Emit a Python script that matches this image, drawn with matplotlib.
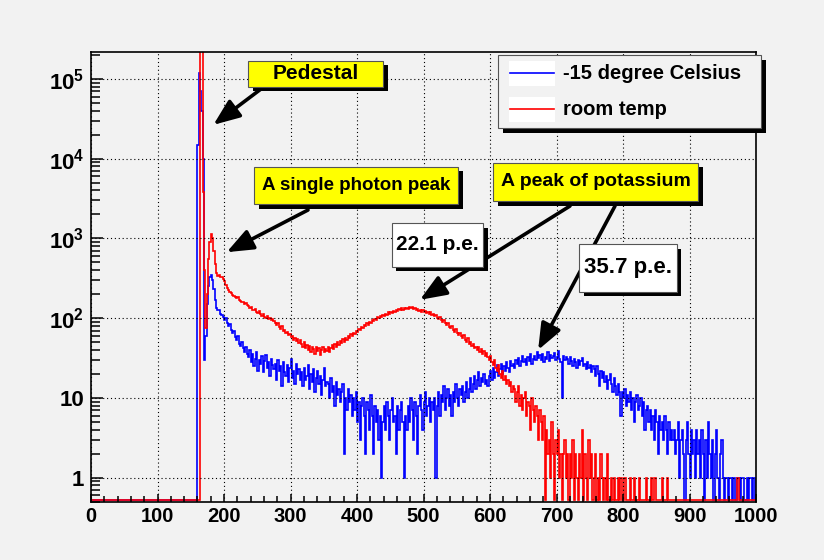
import numpy as np
import matplotlib
matplotlib.use('Agg')
import matplotlib.pyplot as plt
from matplotlib.patches import Rectangle
from matplotlib.lines import Line2D
from matplotlib.ticker import MultipleLocator, LogLocator, FuncFormatter

plt.rcParams['font.family'] = ['Liberation Sans', 'DejaVu Sans']
plt.rcParams['font.weight'] = 'bold'
plt.rcParams['mathtext.fontset'] = 'custom'
plt.rcParams['mathtext.rm'] = 'Liberation Sans:bold'
plt.rcParams['mathtext.it'] = 'Liberation Sans:bold'
plt.rcParams['mathtext.bf'] = 'Liberation Sans:bold'

# ADC channel bins (2 channels per bin)
bin_edges = np.arange(0, 1002, 2)

# -15 degree Celsius
cold_counts = [0] * 80 + [
    15000, 120000, 70000, 40000, 10000, 30, 60, 150, 250, 330, 350, 300, 230, 170, 135, 125, 128, 112,
    110, 105, 96, 100, 88, 80, 84, 72, 66, 70, 58, 54, 60, 48, 45, 50, 42, 38, 44, 36,
    33, 40, 28, 36, 25, 31, 38, 22, 30, 27, 34, 21, 29, 35, 24, 28, 19, 31, 26, 23,
    27, 17, 30, 22, 25, 14, 28, 21, 19, 26, 16, 24, 31, 18, 22, 15, 27, 20, 23, 17,
    21, 14, 24, 17, 19, 26, 13, 20, 16, 23, 12, 18, 22, 15, 19, 11, 17, 24, 14, 16,
    15, 10, 18, 12, 14, 8, 16, 11, 13, 9, 12, 15, 2, 10, 7, 13, 9, 11, 6, 10,
    7, 12, 5, 9, 3, 8, 10, 6, 2, 9, 7, 4, 11, 6, 2, 8, 5, 7, 3, 6,
    1, 5, 8, 4, 9, 6, 3, 7, 10, 5, 6, 2, 8, 4, 7, 9, 5, 1, 6, 4,
    8, 5, 10, 7, 3, 9, 6, 2, 8, 11, 7, 4, 9, 12, 6, 8, 10, 5, 9, 7,
    10, 1, 8, 12, 6, 11, 9, 14, 7, 10, 13, 8, 11, 6, 12, 9, 15, 10, 8, 13,
    11, 14, 9, 12, 16, 10, 13, 18, 12, 15, 19, 13, 17, 21, 14, 18, 16, 20, 15, 17,
    14, 19, 22, 17, 24, 18, 21, 26, 19, 23, 27, 20, 25, 22, 28, 24, 21, 29, 25, 27,
    24, 30, 27, 32, 25, 29, 34, 28, 31, 26, 33, 29, 36, 27, 31, 34, 30, 38, 32, 35,
    30, 36, 28, 33, 31, 38, 29, 35, 32, 34, 37, 30, 33, 39, 31, 28, 10, 34, 30, 33,
    31, 27, 33, 29, 25, 31, 28, 24, 30, 26, 29, 32, 25, 27, 23, 28, 24, 26, 21, 25,
    23, 19, 25, 20, 14, 22, 18, 21, 16, 19, 13, 17, 20, 15, 12, 18, 14, 11, 15, 12,
    6, 12, 10, 13, 8, 11, 9, 12, 7, 10, 5, 9, 11, 7, 8, 10, 6, 9, 4, 7,
    8, 5, 7, 4, 6, 3, 7, 5, 2, 6, 4, 5, 3, 6, 4, 2, 5, 3, 4, 3,
    4, 2, 3, 5, 1, 3, 4, 2, 0, 3, 5, 2, 1, 4, 2, 3, 1, 4, 2, 3,
    1, 4, 2, 0, 3, 1, 5, 2, 1, 3, 0, 2, 4, 1, 0, 2, 3, 1, 0, 1,
    1, 0, 1, 1, 0, 1, 0, 0, 1, 1, 0, 1, 1, 0, 0, 1, 0, 1, 1, 0,
    1, 0]

# room temp
room_counts = [0] * 80 + [
    0, 0, 300000, 300000, 3800, 400, 75, 200, 550, 900, 1150, 1000, 700, 480, 370, 340, 345, 330,
    330, 310, 290, 260, 240, 225, 215, 205, 198, 190, 185, 178, 182, 170, 165, 160, 158, 150, 154, 145,
    142, 135, 138, 128, 125, 130, 120, 116, 122, 112, 108, 114, 104, 100, 106, 97, 102, 94, 98, 92,
    86, 82, 88, 78, 74, 80, 70, 72, 66, 68, 62, 64, 58, 60, 54, 57, 52, 55, 49, 53,
    48, 44, 50, 42, 46, 40, 45, 38, 43, 41, 36, 44, 39, 42, 35, 40, 43, 38, 41, 39,
    44, 38, 42, 46, 41, 48, 44, 50, 46, 52, 49, 55, 51, 57, 54, 60, 56, 63, 60, 66,
    64, 70, 67, 74, 71, 78, 75, 82, 79, 86, 83, 90, 87, 94, 91, 98, 95, 103, 100, 107,
    104, 111, 107, 114, 110, 118, 113, 121, 116, 124, 119, 127, 122, 130, 125, 133, 128, 136, 130, 134,
    131, 138, 133, 140, 129, 135, 126, 132, 123, 128, 120, 126, 118, 124, 115, 121, 112, 118, 110, 114,
    106, 111, 102, 98, 104, 94, 90, 96, 86, 82, 88, 78, 75, 80, 71, 68, 73, 65, 62, 66,
    60, 57, 62, 54, 51, 56, 48, 50, 45, 47, 42, 44, 40, 43, 38, 41, 36, 39, 34, 37,
    33, 30, 34, 28, 26, 30, 24, 22, 26, 20, 18, 22, 17, 19, 15, 17, 14, 16, 12, 14,
    13, 9, 12, 14, 8, 11, 7, 10, 12, 6, 9, 8, 4, 10, 7, 5, 8, 6, 3, 7,
    5, 3, 6, 0, 4, 2, 3, 1, 5, 2, 0, 3, 2, 4, 1, 2, 0, 2, 3, 1,
    2, 0, 2, 1, 3, 0, 2, 1, 0, 2, 1, 4, 0, 2, 1, 0, 3, 1, 2, 0,
    1, 2, 0, 1, 0, 2, 1, 0, 1, 0, 2, 0, 0, 1, 0, 1, 0, 0, 1, 0,
    1, 0, 0, 1, 0, 0, 0, 1, 0, 0, 1, 0, 0, 0, 1, 0, 0, 0, 0, 1,
    0, 0, 0, 1, 0, 1, 1, 0, 0, 0, 0, 1, 0, 0, 0, 1, 0, 0, 0, 0,
    0, 0, 0, 0, 0, 0, 0, 0, 0, 0, 0, 0, 0, 0, 0, 0, 0, 0, 0, 0,
    0, 0, 0, 0, 0, 0, 0, 0, 0, 0, 0, 0, 0, 0, 0, 0, 0, 0, 0, 0,
    0, 0, 0, 0, 0, 0, 0, 0, 1, 0, 0, 0, 0, 0, 0, 0, 0, 0, 0, 0,
    0, 0]

legend_labels = ['-15 degree Celsius', 'room temp']

W, H = 824, 560
bg = '#f2f2f2'
fig = plt.figure(figsize=(W / 100, H / 100), dpi=100, facecolor=bg)
ax = fig.add_axes([91 / W, 1 - 501.7 / H, 665 / W, 450 / H], facecolor=bg)

# empty bins are drawn on the bottom edge, like ROOT does
ymin = 0.5
ax.stairs(np.clip(cold_counts, ymin * 1.06, None), bin_edges, color='#0000ff', lw=1.2)
ax.stairs(np.clip(room_counts, ymin * 1.06, None), bin_edges, color='#ff0000', lw=1.2)

ax.set_yscale('log')
ax.set_xlim(0, 1000)
ax.set_ylim(ymin, 2.2e5)
ax.xaxis.set_major_locator(MultipleLocator(100))
ax.xaxis.set_minor_locator(MultipleLocator(20))
ax.yaxis.set_major_locator(LogLocator(base=10))
ax.yaxis.set_minor_locator(LogLocator(base=10, subs=np.arange(2, 10)))


def ylabel_fmt(v, pos):
    e = int(round(np.log10(v)))
    if e == 0:
        return '1'
    if e == 1:
        return '10'
    return '$10^{%d}$' % e


ax.yaxis.set_major_formatter(FuncFormatter(ylabel_fmt))
ax.tick_params(which='both', direction='in', top=False, right=False, width=1.1)
ax.tick_params(axis='x', which='major', length=6, pad=4, labelsize=14.5)
ax.tick_params(axis='x', which='minor', length=4.3)
ax.tick_params(axis='y', which='major', length=8.5, pad=5, labelsize=16)
ax.tick_params(axis='y', which='minor', length=6.5)
for s in ax.spines.values():
    s.set_linewidth(1.2)
ax.grid(True, which='major', color='black', linestyle=(0, (1, 2.5)), linewidth=0.8)


def px(x, y):
    return x / W, 1 - y / H


def label_box(x0, y0, x1, y1, face, text, size):
    fig.add_artist(Rectangle(px(x0 + 4.5, y1 + 4.5), (x1 - x0) / W, (y1 - y0) / H,
                             transform=fig.transFigure, facecolor='black', edgecolor='none', zorder=5))
    fig.add_artist(Rectangle(px(x0, y1), (x1 - x0) / W, (y1 - y0) / H,
                             transform=fig.transFigure, facecolor=face, edgecolor='#555555',
                             lw=0.8, zorder=6))
    cx, cy = px((x0 + x1) / 2, (y0 + y1) / 2)
    fig.text(cx, cy, text, ha='center', va='center', fontsize=size, fontweight='bold', zorder=7)


# arrows: start under the boxes, tip at a data point
arrows = [((261, 89), (184, 2.66e4)),
          ((308, 210), (204, 673)),
          ((570, 206), (494.6, 170)),
          ((615, 206), (672.4, 40))]
for (sx, sy), tip in arrows:
    ax.annotate('', xy=tip, xycoords='data', xytext=px(sx, sy), textcoords='figure fraction',
                arrowprops=dict(arrowstyle='-|>,head_length=1.0,head_width=0.4', lw=2.6,
                                color='black', shrinkA=0, shrinkB=0, mutation_scale=16),
                annotation_clip=False)

label_box(248.3, 60.7, 383.3, 86.7, '#ffff00', 'Pedestal', 15)
label_box(254, 166.7, 458.3, 204, '#ffff00', 'A single photon peak', 13.5)
label_box(493.3, 162.7, 698.3, 201.3, '#ffff00', 'A peak of potassium', 14)
label_box(391.7, 223.3, 483.3, 266.7, 'white', '22.1 p.e.', 15)
label_box(579.3, 244, 676.7, 291.7, 'white', '35.7 p.e.', 16)

# legend
lx0, ly0, lx1, ly1 = 498.3, 55, 760.7, 128.3
fig.add_artist(Rectangle(px(lx0 + 5, ly1 + 5), (lx1 - lx0) / W, (ly1 - ly0) / H,
                         transform=fig.transFigure, facecolor='black', edgecolor='none', zorder=5))
fig.add_artist(Rectangle(px(lx0, ly1), (lx1 - lx0) / W, (ly1 - ly0) / H,
                         transform=fig.transFigure, facecolor=bg, edgecolor='#555555', lw=0.8, zorder=6))
for label, color, yc in zip(legend_labels, ['#0000ff', '#ff0000'], [73.3, 109.3]):
    fig.add_artist(Rectangle(px(509, yc + 12.7), 46 / W, 25.4 / H, transform=fig.transFigure,
                             facecolor='white', edgecolor='none', zorder=7))
    x_a, y_a = px(510, yc)
    x_b, _ = px(554, yc)
    fig.add_artist(Line2D([x_a, x_b], [y_a, y_a], transform=fig.transFigure, color=color, lw=1.2, zorder=8))
    tx, ty = px(563.3, yc)
    fig.text(tx, ty, label, ha='left', va='center', fontsize=14.5, fontweight='bold', zorder=8)

fig.savefig('out.png', dpi=100, facecolor=bg)
